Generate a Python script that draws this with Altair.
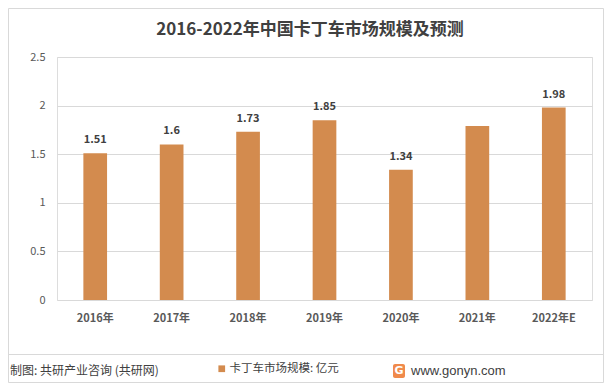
import altair as alt
import pandas as pd

years = ["2016年", "2017年", "2018年", "2019年", "2020年", "2021年", "2022年E"]
values = [1.51, 1.6, 1.73, 1.85, 1.34, 1.79, 1.98]
labels = ["1.51", "1.6", "1.73", "1.85", "1.34", "", "1.98"]
y_ticks = [0, 0.5, 1, 1.5, 2, 2.5]
series_name = "卡丁车市场规模: 亿元"
title_text = "2016-2022年中国卡丁车市场规模及预测"
source_text = "制图: 共研产业咨询 (共研网)"
site_text = "www.gonyn.com"

df = pd.DataFrame({"year": years, "value": values, "label": labels, "series": series_name})

FONT = "Noto Sans CJK SC"
W, H = 535, 243

base = alt.Chart(df)

x_enc = alt.X("year:N", sort=years,
              scale=alt.Scale(paddingInner=0.69, paddingOuter=0.345),
              axis=alt.Axis(title=None, labelAngle=0, domain=False, ticks=False,
                            labelPadding=12, labelFontSize=11, labelColor="#595959",
                            labelFont=FONT, labelFontWeight="bold"))
y_enc = alt.Y("value:Q", scale=alt.Scale(domain=[0, 2.5], nice=False),
              axis=alt.Axis(title=None, values=y_ticks, format="~g", domain=False, ticks=False,
                            labelPadding=12, labelFontSize=11, labelColor="#595959",
                            labelFont=FONT, gridColor="#D9D9D9", gridWidth=1))

bars = base.mark_bar(color="#D38B4E").encode(
    x=x_enc, y=y_enc,
    color=alt.Color("series:N", scale=alt.Scale(range=["#D38B4E"]),
                    legend=alt.Legend(orient="none", legendX=159, legendY=306, title=None,
                                      symbolType="square", symbolSize=45, symbolStrokeWidth=0,
                                      labelFont=FONT, labelFontSize=11.5, labelColor="#404040",
                                      labelOffset=2, padding=0)),
)

texts = base.mark_text(dy=-13, fontSize=11, fontWeight="bold", color="#404040", font=FONT).encode(
    x=alt.X("year:N", sort=years), y="value:Q", text="label:N"
)

title = alt.Chart(pd.DataFrame({"t": [title_text]})).mark_text(
    fontSize=17, fontWeight="bold", color="#404040", font=FONT, align="center", baseline="middle"
).encode(x=alt.value(253), y=alt.value(-27), text="t:N")

sep = alt.Chart(pd.DataFrame({"a": [0]})).mark_rule(color="#D9D9D9", strokeWidth=1).encode(
    x=alt.value(-49), x2=alt.value(547), y=alt.value(297.5)
)

border = alt.Chart(pd.DataFrame({"a": [0]})).mark_rect(
    fill=None, stroke="#D9D9D9", strokeWidth=1
).encode(x=alt.value(-48.5), x2=alt.value(546.5), y=alt.value(-48.5), y2=alt.value(325.5))

src = alt.Chart(pd.DataFrame({"t": [source_text]})).mark_text(
    fontSize=12, color="#404040", font=FONT, align="left", baseline="middle"
).encode(x=alt.value(-47), y=alt.value(314), text="t:N")

logo = alt.Chart(pd.DataFrame({"a": [0]})).mark_rect(color="#F08A4B", cornerRadius=2).encode(
    x=alt.value(336), x2=alt.value(348), y=alt.value(307), y2=alt.value(321)
)
logo_g = alt.Chart(pd.DataFrame({"t": ["G"]})).mark_text(
    fontSize=11, fontWeight="bold", color="white", font="DejaVu Sans", align="center", baseline="middle"
).encode(x=alt.value(342), y=alt.value(314), text="t:N")

site = alt.Chart(pd.DataFrame({"t": [site_text]})).mark_text(
    fontSize=13, color="#404040", font="Liberation Sans", align="left", baseline="middle"
).encode(x=alt.value(354), y=alt.value(314), text="t:N")

chart = alt.layer(border, sep, bars, texts, title, src, logo, logo_g, site).properties(
    width=W, height=H,
    autosize=alt.AutoSizeParams(type="none"),
    padding={"left": 49, "top": 49, "right": 12, "bottom": 83},
).configure_view(stroke=None).configure(background="white")

chart.save("out.html", embed_options={"renderer": "svg", "actions": False})
